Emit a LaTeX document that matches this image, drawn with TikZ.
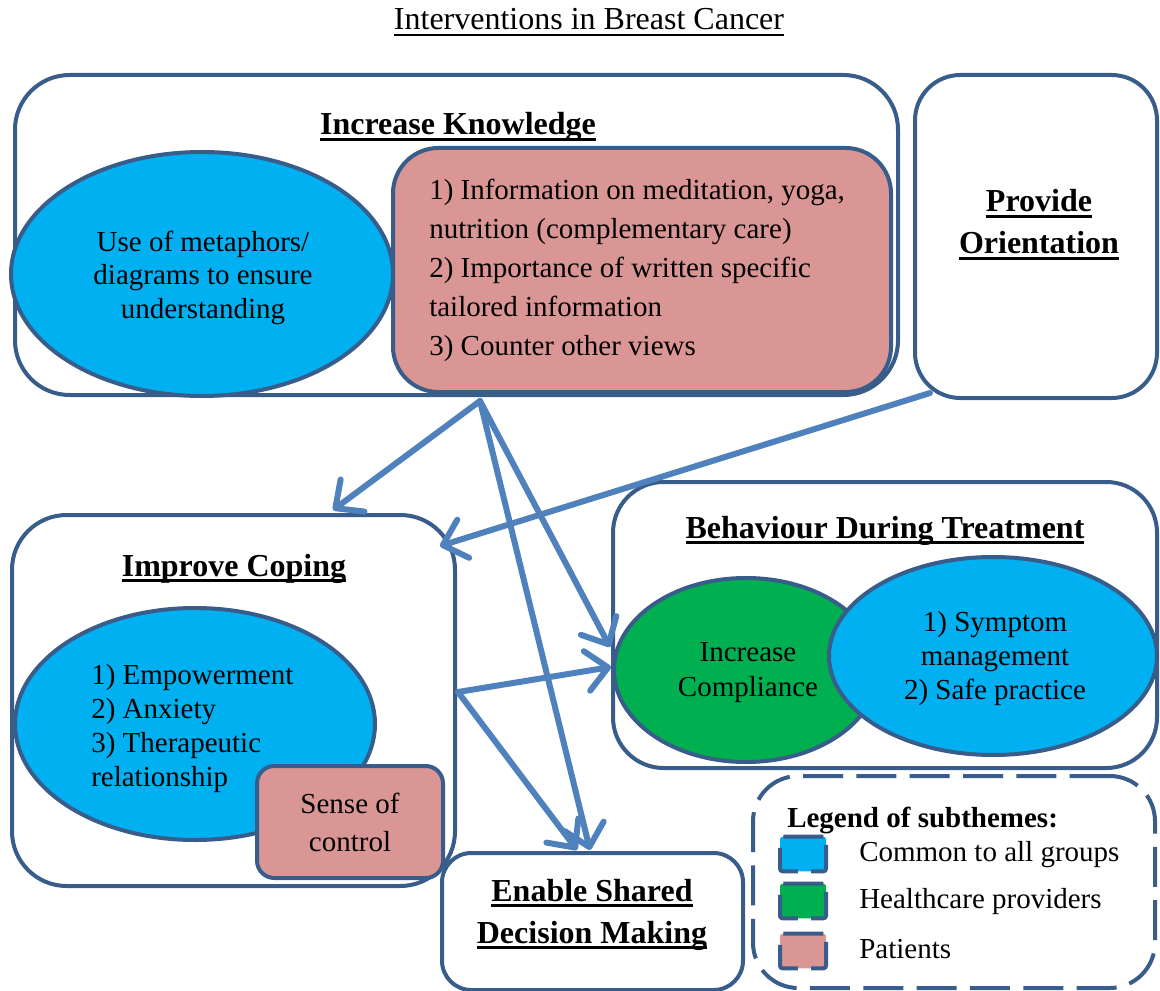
\documentclass[tikz,border=0pt]{standalone}
\usepackage{fontspec}
\setmainfont{Liberation Serif}
\usetikzlibrary{arrows.meta,shapes.geometric,fit}
\definecolor{rimblue}{RGB}{56,93,138}
\definecolor{arrowblue}{RGB}{79,129,189}
\definecolor{subcyan}{RGB}{0,176,240}
\definecolor{subgreen}{RGB}{0,176,80}
\definecolor{subpink}{RGB}{217,150,148}
% thick underline as in the headings
\newcommand\hdline[2][2.2pt]{\setbox0\hbox{#2}\rlap{\rule[-4.3pt]{\wd0}{#1}}\box0}
\begin{document}
\begin{tikzpicture}[
  x=0.75pt, y=-0.75pt,
  ibcbox/.style = {draw=rimblue, line width=3pt, fill=white, inner sep=0pt, rounded corners=41pt},
  ibcell/.style = {ellipse, draw=rimblue, line width=3pt, inner sep=0pt},
  ibcarrow/.style = {draw=arrowblue, line width=4.5pt, line cap=round,
    -{Straight Barb[length=16pt, width=30pt, round]}},
  ibcdash/.style = {dash pattern=on 30pt off 10pt},
  ibchead/.style = {font=\fontsize{24}{31.5}\selectfont\bfseries, align=center, anchor=base, inner sep=0pt},
  ibctext/.style = {font=\fontsize{21.75}{25.5}\selectfont, anchor=base, inner sep=0pt}
]
  \useasboundingbox (0,0) rectangle (1160,991);
  % title
  \node[font=\fontsize{24}{28}\selectfont, anchor=base, inner sep=0pt] (title) at (589,30)
    {\hdline[1.1pt]{Interventions in Breast Cancer}};

  % increase knowledge
  \node[ibcbox, fit={(15,75) (898,395)}] (know) {};
  \node[ibcell, fill=subcyan, minimum width=286.5pt, minimum height=183pt] (kell) at (202,274) {};
  \node[ibcbox, fill=subpink, rounded corners=34pt, fit={(393,148) (891,392)}] (kpink) {};
  \node[ibchead] (khead) at (458,135) {\hdline{Increase Knowledge}};
  \node[ibctext, align=center] (ktext) at (203,319)
    {Use of metaphors/\\diagrams to ensure\\understanding};
  \node[ibctext, align=left, anchor=base west, font=\fontsize{21.75}{29.25}\selectfont] (ptext) at (429,355)
    {1) Information on meditation, yoga,\\nutrition (complementary care)\\2) Importance of written specific\\tailored information\\3) Counter other views};

  % provide orientation
  \node[ibcbox, rounded corners=34pt, fit={(915,75) (1157,398)}] (orient) {};
  \node[ibchead] (ohead) at (1039,254) {\hdline{Provide}\\\hdline{Orientation}};

  % improve coping
  \node[ibcbox, fit={(12,515) (455,886)}] (cope) {};
  \node[ibcell, fill=subcyan, minimum width=270pt, minimum height=174pt] (cell) at (195,724) {};
  \node[ibcbox, fill=subpink, rounded corners=13pt, fit={(257,766) (443,878)}] (sense) {};
  \node[ibchead] (chead) at (234,576) {\hdline{Improve Coping}};
  \node[ibctext, align=left, anchor=base west] (ctext) at (91,786)
    {1) Empowerment\\2) Anxiety\\3) Therapeutic\\relationship};
  \node[ibctext, align=center, font=\fontsize{21.75}{28.5}\selectfont] (stext) at (350,851)
    {Sense of\\control};

  % behaviour during treatment
  \node[ibcbox, rounded corners=38pt, fit={(613,482) (1157,768)}] (behave) {};
  \node[ibcell, fill=subgreen, minimum width=198pt, minimum height=138pt] (gell) at (746,670) {};
  \node[ibcell, fill=subcyan, minimum width=246pt, minimum height=148.5pt] (bell) at (993,656) {};
  \node[ibchead] (bhead) at (885,538) {\hdline{Behaviour During Treatment}};
  \node[ibctext, align=center, font=\fontsize{21.75}{26.25}\selectfont] (gtext) at (748,696)
    {Increase\\Compliance};
  \node[ibctext, align=center] (btext) at (995,699)
    {1) Symptom\\management\\2) Safe practice};

  % enable shared decision making
  \node[ibcbox, rounded corners=22pt, fit={(442,853) (743,990)}] (decide) {};
  \node[ibchead] (dhead) at (592,943) {\hdline{Enable Shared}\\\hdline{Decision Making}};

  % arrows
  \coordinate (kout) at (480,401);
  \coordinate (oout) at (930,393);
  \coordinate (cout) at (458,692);
  \coordinate (copein) at (333,510);
  \coordinate (copecorner) at (440,546);
  \coordinate (behin) at (610,647);
  \coordinate (behmid) at (611,667);
  \coordinate (decin) at (590,850);
  \coordinate (decleft) at (577,850);
  \draw[ibcarrow] (kout) -- (copein);
  \draw[ibcarrow] (kout) -- (behin);
  \draw[ibcarrow] (kout) -- (decin);
  \draw[ibcarrow] (oout) -- (copecorner);
  \draw[ibcarrow] (cout) -- (behmid);
  \draw[ibcarrow] (cout) -- (decleft);

  % legend
  \node[ibcbox, ibcdash, rounded corners=34pt, fit={(753,776) (1155,988)}] (legend) {};
  \node[ibctext, anchor=base west, font=\fontsize{21.75}{25.5}\selectfont\bfseries] (lhead) at (787,827)
    {Legend of subthemes:};
  \foreach \fillc/\ypos/\lbl [count=\i] in {subcyan/854/Common to all groups,
      subgreen/901/Healthcare providers, subpink/951/Patients} {
    \node[draw=rimblue, line width=3pt, ibcdash, fill=\fillc, rounded corners=2pt,
      minimum width=34.5pt, minimum height=26pt, inner sep=0pt] (swatch\i) at (803,\ypos) {};
    \node[ibctext, anchor=base west] (ltext\i) at (859,\ypos+7) {\lbl};
  }
\end{tikzpicture}
\end{document}
